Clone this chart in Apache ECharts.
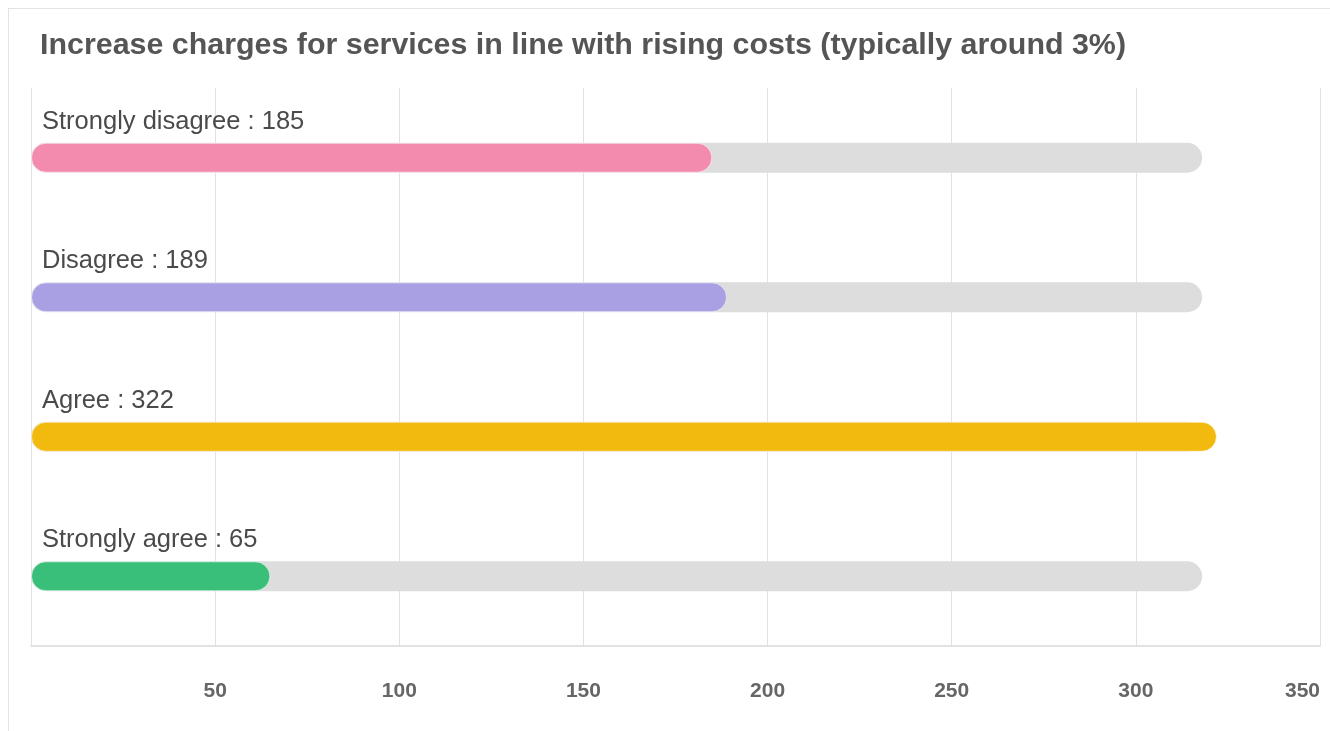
<!DOCTYPE html>
<html>
<head>
<meta charset="utf-8">
<script src="https://cdn.jsdelivr.net/npm/echarts@6/dist/echarts.min.js"></script>
<style>
html,body{margin:0;padding:0;background:#fff;overflow:hidden;width:1330px;height:731px;}
#card{position:absolute;left:8px;top:8px;width:1400px;height:800px;border:1px solid #e3e3e3;box-sizing:border-box;}
#chart{position:absolute;left:0;top:0;width:1330px;height:731px;}
</style>
</head>
<body>
<div id="card"></div>
<div id="chart"></div>
<script>
const titleText = 'Increase charges for services in line with rising costs (typically around 3%)';
const categories = ['Strongly disagree', 'Disagree', 'Agree', 'Strongly agree'];
const values = [185, 189, 322, 65];
const trackValues = [318, 318, 318, 318];
const barColors = ['#f28bad', '#a9a0e3', '#f2b90f', '#3abf7b'];
const tickValues = [0, 50, 100, 150, 200, 250, 300, 350];

const chart = echarts.init(document.getElementById('chart'));
chart.setOption({
  animation: false,
  title: {
    text: titleText,
    left: 35, top: 26,
    textStyle: {fontFamily: 'Liberation Sans, Arial, sans-serif', fontSize: 30.4, fontWeight: 'bold', color: '#555'}
  },
  grid: {left: 31, right: 10, top: 88, bottom: 85, containLabel: false, outerBoundsMode: 'none'},
  xAxis: {
    type: 'value', min: tickValues[0], max: tickValues[tickValues.length - 1], interval: 50,
    axisLine: {show: true, lineStyle: {color: '#e2e2e2', width: 2}},
    axisTick: {show: false},
    splitLine: {show: true, lineStyle: {color: '#e2e2e2', width: 1}},
    axisLabel: {showMinLabel: false, alignMaxLabel: 'right', margin: 35, color: '#666', fontSize: 21, fontWeight: 'bold', fontFamily: 'Liberation Sans, Arial, sans-serif'}
  },
  yAxis: {
    type: 'category', data: categories, inverse: true,
    axisLine: {show: false}, axisTick: {show: false}, axisLabel: {show: false}, splitLine: {show: false}
  },
  series: [
    {
      type: 'bar', data: trackValues, barWidth: 30, barGap: '-100%', silent: true,
      itemStyle: {color: '#dddddd', borderRadius: 15}, z: 1
    },
    {
      type: 'bar', barWidth: 30, z: 2,
      data: values.map((v, i) => ({value: v, itemStyle: {color: barColors[i]}})),
      itemStyle: {borderRadius: 15, borderColor: 'rgba(255,255,255,0.6)', borderWidth: 1},
      label: {
        show: true, position: [11, -34],
        formatter: p => categories[p.dataIndex] + ' : ' + p.value,
        color: '#4a4a4a', fontSize: 25.5, fontFamily: 'Liberation Sans, Arial, sans-serif'
      }
    }
  ]
});
</script>
</body>
</html>
